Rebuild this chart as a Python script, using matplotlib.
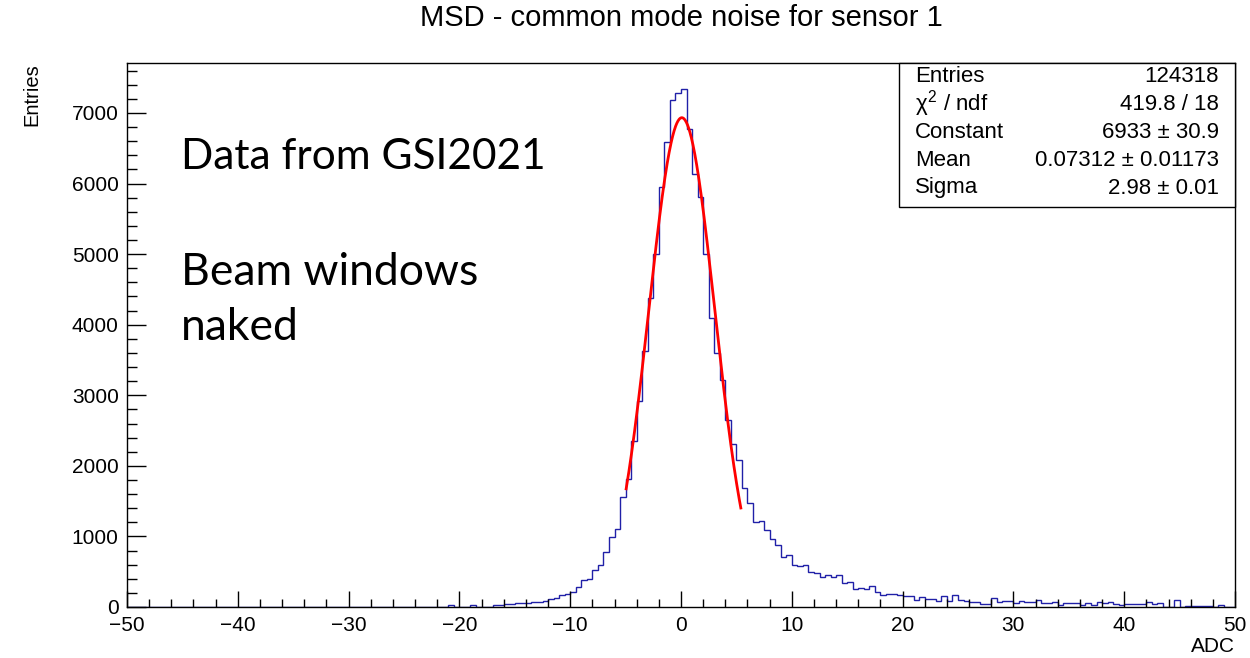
import numpy as np
import matplotlib
matplotlib.use("Agg")
import matplotlib.pyplot as plt
from matplotlib.ticker import MultipleLocator
from matplotlib.patches import Rectangle

# ---------------- data ----------------
x_low, x_high, bin_width = -50.0, 50.0, 0.5
counts = [
    # -50 .. -25
    0, 0, 0, 0, 0, 0, 0, 0, 0, 0,
    0, 0, 0, 0, 0, 0, 0, 0, 0, 0,
    0, 0, 0, 0, 0, 0, 0, 0, 0, 0,
    0, 0, 0, 0, 0, 0, 0, 0, 0, 0,
    0, 0, 0, 0, 0, 0, 0, 0, 0, 0,
    # -25 .. -20
    0, 0, 0, 0, 0, 0, 0, 0, 24, 5,
    # -20 .. -15
    5, 5, 24, 5, 5, 5, 24, 24, 47, 47,
    # -15 .. -10
    61, 61, 52, 71, 71, 90, 113, 123, 170, 184,
    # -10 .. -5
    217, 288, 383, 395, 529, 590, 779, 985, 1105, 1560,
    # -5 .. 0
    1810, 2351, 2922, 3632, 4374, 5008, 5947, 6595, 7190, 7276,
    # 0 .. 5
    7333, 6772, 6134, 5814, 5008, 4097, 3598, 3210, 2644, 2316,
    # 5 .. 10
    2078, 1692, 1471, 1210, 1215, 1095, 958, 882, 708, 735,
    # 10 .. 15
    600, 581, 590, 495, 484, 418, 455, 432, 449, 347,
    # 15 .. 20
    354, 259, 267, 262, 293, 208, 174, 189, 184, 174,
    # 20 .. 25
    156, 156, 94, 137, 118, 118, 80, 156, 90, 165,
    # 25 .. 30
    94, 90, 66, 66, 47, 47, 123, 71, 80, 80,
    # 30 .. 35
    52, 80, 71, 71, 94, 61, 61, 71, 28, 61,
    # 35 .. 40
    52, 52, 24, 52, 24, 71, 52, 71, 42, 24,
    # 40 .. 45
    42, 42, 38, 38, 75, 47, 52, 5, 5, 94,
    # 45 .. 50
    5, 20, 20, 20, 20, 20, 5, 24, 5, 5,
]
fit_constant, fit_mean, fit_sigma = 6933.0, 0.07312, 2.98
fit_range = (-4.95, 5.4)
y_max = 7708

stat_labels = ["Entries", r"$\chi^{2}$ / ndf", "Constant", "Mean", "Sigma"]
stat_values = ["124318", "419.8 / 18", "6933 \u00b1 30.9",
               "0.07312 \u00b1 0.01173", "2.98 \u00b1 0.01"]

title = "MSD - common mode noise for sensor 1"
x_title = "ADC"
y_title = "Entries"
note_lines = ["Data from GSI2021", "Beam windows", "naked"]

# ---------------- figure ----------------
W, H = 1250, 658
fig = plt.figure(figsize=(W / 100, H / 100), dpi=100)
root_font = "Liberation Sans"
plt.rcParams["font.family"] = [root_font, "DejaVu Sans"]
plt.rcParams["mathtext.fontset"] = "custom"
plt.rcParams["mathtext.rm"] = root_font
plt.rcParams["mathtext.it"] = root_font

L, R, T, B = 127, 1235, 63, 607
ax = fig.add_axes([L / W, 1 - B / H, (R - L) / W, (B - T) / H])

edges = np.arange(len(counts) + 1) * bin_width + x_low
ax.stairs(counts, edges, color="#2020a8", lw=1.0, baseline=0)

xf = np.linspace(fit_range[0], fit_range[1], 300)
yf = fit_constant * np.exp(-0.5 * ((xf - fit_mean) / fit_sigma) ** 2)
ax.plot(xf, yf, color="#ff0000", lw=2)

ax.set_xlim(x_low, x_high)
ax.set_ylim(0, y_max)
ax.xaxis.set_major_locator(MultipleLocator(10))
ax.xaxis.set_minor_locator(MultipleLocator(2))
ax.yaxis.set_major_locator(MultipleLocator(1000))
ax.yaxis.set_minor_locator(MultipleLocator(200))
ax.tick_params(axis="x", which="major", direction="in", length=11.5, width=1,
               labelsize=15, pad=6.5)
ax.tick_params(axis="x", which="minor", direction="in", length=5.8, width=1)
ax.tick_params(axis="y", which="major", direction="in", length=14, width=1,
               labelsize=15, pad=6)
ax.tick_params(axis="y", which="minor", direction="in", length=7, width=1)
for s in ax.spines.values():
    s.set_linewidth(1)
    s.set_color("black")

fig.text((L + R) / 2 / W, 1 - 18 / H, title, ha="center", va="center",
         fontsize=21)
fig.text(R / W, 1 - 646 / H, x_title, ha="right", va="center", fontsize=15)
fig.text(32 / W, 1 - T / H, y_title, ha="center", va="top", rotation=90,
         fontsize=14.5)

# overlay notes
note_y = [157, 272, 328]
note_size = [30.5, 32, 32]
for txt, yy, fs in zip(note_lines, note_y, note_size):
    fig.text(181 / W, 1 - yy / H, txt, ha="left", va="center", fontsize=fs,
             family="Lato")

# stats box
bx0, by0, bx1, by1 = 899, 63, 1235, 207
fig.add_artist(Rectangle((bx0 / W, 1 - by1 / H), (bx1 - bx0) / W,
                         (by1 - by0) / H, transform=fig.transFigure,
                         facecolor="white", edgecolor="black", lw=1, zorder=5))
row_y = [77, 104, 133, 161, 188]
for lab, val, yy in zip(stat_labels, stat_values, row_y):
    fig.text(915 / W, 1 - yy / H, lab, ha="left", va="center", fontsize=16,
             zorder=6)
    fig.text(1219 / W, 1 - yy / H, val, ha="right", va="center", fontsize=16,
             zorder=6)

fig.savefig("out.png", dpi=100)
